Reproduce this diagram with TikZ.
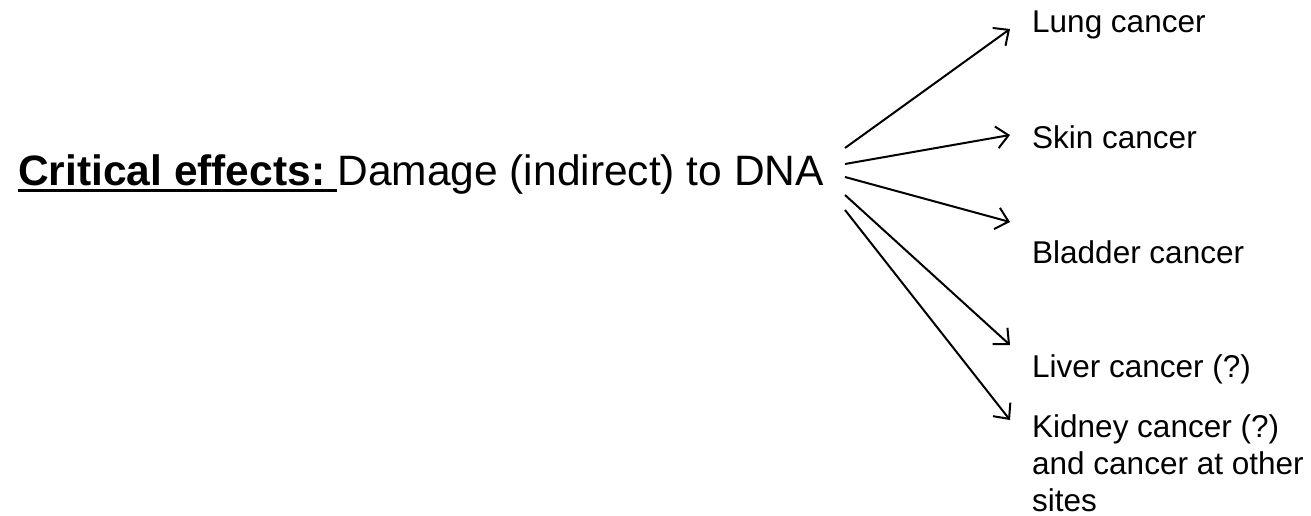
\documentclass[tikz,border=0pt]{standalone}
\usepackage{fontspec}
\setmainfont{Liberation Sans}
\usetikzlibrary{arrows.meta,calc}
\tikzset{
  lbl/.style={anchor=base west, inner sep=0pt, font=\fontsize{31.5}{37}\selectfont, align=left},
  maintxt/.style={anchor=base west, inner sep=0pt, font=\fontsize{42.5}{46}\selectfont},
  link/.style={line width=2pt, -{Straight Barb[length=12pt,width=22pt,line width=2pt]}}
}
\begin{document}
\begin{tikzpicture}[x=1pt,y=-1pt]
  \useasboundingbox (0,0) rectangle (1311,516);
  % heading: underlined bold lead-in, then the plain statement
  \node[maintxt] (crit) at (18,185) {\bfseries Critical effects:\kern0.278em\relax};
  \node[maintxt] (dmg) at (crit.base east) {Damage (indirect) to DNA};
  \draw[line width=2.6pt] ($(crit.base west)+(0,5.5)$) -- ($(crit.base east)+(0,5.5)$);
  % outcomes
  \node[lbl] (lung) at (1032,33) {Lung cancer};
  \node[lbl] (skin) at (1032,148) {Skin cancer};
  \node[lbl] (bladder) at (1032,263) {Bladder cancer};
  \node[lbl] (liver) at (1032,377) {Liver cancer (?)};
  \node[lbl] (kidney) at (1032,511) {Kidney cancer (?)\\and cancer at other\\sites};
  % arrow ends
  \coordinate (s1) at (845,148);
  \coordinate (s2) at (845,164);
  \coordinate (s3) at (845,177);
  \coordinate (s4) at (845,195);
  \coordinate (s5) at (845,210);
  \coordinate (e1) at (1010,29);
  \coordinate (e2) at (1010,135);
  \coordinate (e3) at (1010,222);
  \coordinate (e4) at (1010,345);
  \coordinate (e5) at (1010,420);
  \draw[link] (s1) -- (e1);
  \draw[link] (s2) -- (e2);
  \draw[link] (s3) -- (e3);
  \draw[link] (s4) -- (e4);
  \draw[link] (s5) -- (e5);
\end{tikzpicture}
\end{document}
